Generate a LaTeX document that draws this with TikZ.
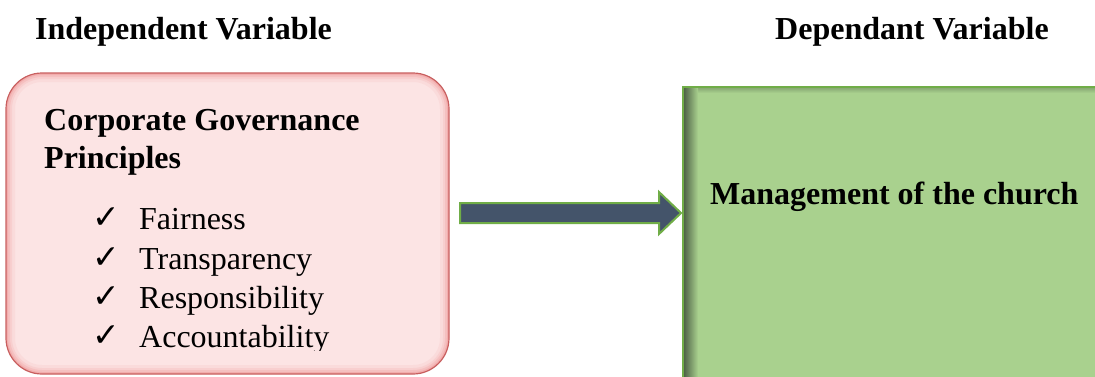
\documentclass[tikz,border=0pt]{standalone}
\usepackage{fontspec}
\setmainfont{Liberation Serif}
\newfontfamily\symfont{DejaVu Sans}
\usetikzlibrary{calc}
\definecolor{pinkfill}{RGB}{252,228,228}
\definecolor{pinkedge}{RGB}{200,95,95}
\definecolor{pinkglow}{RGB}{238,140,140}
\definecolor{greenfill}{RGB}{169,209,142}
\definecolor{greenedge}{RGB}{112,173,71}
\definecolor{greenshadow}{RGB}{80,100,72}
\definecolor{arrowfill}{RGB}{68,84,106}
\tikzset{
  title/.style={anchor=base west, inner sep=0pt, font=\fontsize{32}{38}\selectfont\bfseries},
  boldtxt/.style={anchor=base west, inner sep=0pt, font=\fontsize{32}{38}\selectfont\bfseries},
  itemtxt/.style={anchor=base west, inner sep=0pt, font=\fontsize{32}{38}\selectfont},
  checktxt/.style={anchor=base west, inner sep=0pt, font=\symfont\fontsize{33}{36}\selectfont},
  blockarrow/.style={fill=arrowfill, draw=greenedge, line width=2pt, line join=miter},
}
\begin{document}
\begin{tikzpicture}[x=1pt,y=-1pt]
\useasboundingbox (0,0) rectangle (1095,376);
% titles
\node[title] (t1) at (35,39) {Independent Variable};
\node[title] (t2) at (775,39) {Dependant Variable};
% pink box
\coordinate (ivA) at (6,73);
\coordinate (ivB) at (449,374);
\fill[pinkfill, rounded corners=36pt] (ivA) rectangle (ivB);
\foreach \w/\o in {18/0.10,12/0.15,8/0.22,4/0.35} {
  \begin{scope}
    \clip[rounded corners=36pt] (ivA) rectangle (ivB);
    \draw[pinkglow, line width=\w pt, opacity=\o, rounded corners=36pt] (ivA) rectangle (ivB);
  \end{scope}
}
\draw[pinkedge, line width=1.2pt, rounded corners=36pt] (ivA) rectangle (ivB);
\node[inner sep=0pt, minimum width=443pt, minimum height=301pt] (iv) at (227.5,223.5) {};
\begin{scope}
  \clip (6,73) rectangle (449,350);
  \node[boldtxt] (cg1) at (44,130) {Corporate Governance};
  \node[boldtxt] (cg2) at (44,168) {Principles};
  \node[checktxt] (c1) at (92,228) {✓};
  \node[itemtxt] (i1) at (139,229) {Fairness};
  \node[checktxt] (c2) at (92,268) {✓};
  \node[itemtxt] (i2) at (139,269) {Transparency};
  \node[checktxt] (c3) at (92,307) {✓};
  \node[itemtxt] (i3) at (139,308) {Responsibility};
  \node[checktxt] (c4) at (92,346) {✓};
  \node[itemtxt] (i4) at (139,347) {Accountability};
\end{scope}
% green box
\fill[greenfill] (683,87) rectangle (1100,380);
\shade[top color=greenshadow!35!greenfill, bottom color=greenfill] (684,88) rectangle (1100,93);
\shade[left color=greenshadow, right color=greenfill] (684,88) rectangle (698,380);
\draw[greenedge, line width=1.5pt] (1100,87) -- (683,87) -- (683,380);
\node[inner sep=0pt, minimum width=412pt, minimum height=289pt] (dv) at (889,231.5) {};
\node[boldtxt] (mgmt) at (710,204) {Management of the church};
% arrow
\coordinate (as) at (460,213);
\coordinate (at) at (681,213);
\draw[blockarrow] ($(as)+(0,-10)$) -- ($(at)+(-22,-10)$) -- ($(at)+(-22,-21)$) -- (at)
  -- ($(at)+(-22,21)$) -- ($(at)+(-22,10)$) -- ($(as)+(0,10)$) -- cycle;
\end{tikzpicture}
\end{document}
